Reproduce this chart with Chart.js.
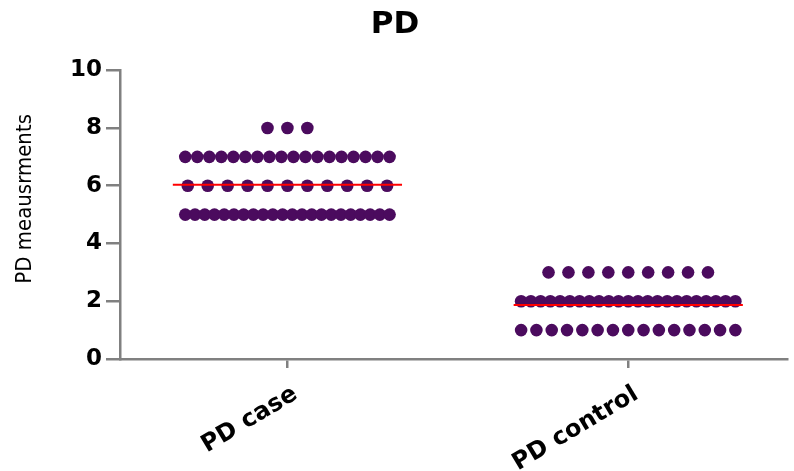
<!DOCTYPE html>
<html>
<head>
<meta charset="utf-8">
<script src="https://cdn.jsdelivr.net/npm/chart.js@4"></script>
<style>
  html, body { margin: 0; padding: 0; background: #fff; }
</style>
</head>
<body>
<canvas id="chart" width="794" height="471"></canvas>
<script>
// groups on the x axis
const groups = ["PD case", "PD control"];

const caseValues = [
  8, 8, 8,
  7, 7, 7, 7, 7, 7, 7, 7, 7, 7, 7, 7, 7, 7, 7, 7, 7, 7,
  6, 6, 6, 6, 6, 6, 6, 6, 6, 6, 6,
  5, 5, 5, 5, 5, 5, 5, 5, 5, 5, 5, 5, 5, 5, 5, 5, 5, 5, 5, 5, 5, 5
];
const controlValues = [
  3, 3, 3, 3, 3, 3, 3, 3, 3,
  2, 2, 2, 2, 2, 2, 2, 2, 2, 2, 2, 2, 2, 2, 2, 2, 2, 2, 2, 2, 2, 2, 2,
  1, 1, 1, 1, 1, 1, 1, 1, 1, 1, 1, 1, 1, 1, 1
];

const yTicks = [0, 2, 4, 6, 8, 10];

const PX_PER_UNIT = 342;   // x scale pixels per group step
const DOT_STEP = 20;       // px between spread dots
const ROW_MAX = [205, 215];// widest a row may get, px
const MEAN_HALF = 115;     // half length of mean line, px

// spread dots sharing a value sideways, like a scatter dot plot
function spread(values, groupIdx) {
  const rows = {};
  values.forEach(v => { (rows[v] = rows[v] || []).push(v); });
  const pts = [];
  Object.keys(rows).forEach(k => {
    const n = rows[k].length;
    const step = n > 1 ? Math.min(DOT_STEP, ROW_MAX[groupIdx] / (n - 1)) : 0;
    rows[k].forEach((v, i) => {
      const off = (i - (n - 1) / 2) * step / PX_PER_UNIT;
      pts.push({ x: groupIdx + 1 + off, y: v });
    });
  });
  return pts;
}

function meanLine(values, groupIdx) {
  const m = values.reduce((a, b) => a + b, 0) / values.length;
  const h = MEAN_HALF / PX_PER_UNIT;
  return [{ x: groupIdx + 1 - h, y: m }, { x: groupIdx + 1 + h, y: m }];
}

const dotColor = "#4b0b5e";
const axisColor = "#808080";
const sans = "'DejaVu Sans', Arial, sans-serif";

new Chart(document.getElementById("chart").getContext("2d"), {
  type: "scatter",
  data: {
    datasets: [
      { data: meanLine(caseValues, 0), showLine: true, borderColor: "#ff0000", borderWidth: 2, pointRadius: 0, order: 0 },
      { data: meanLine(controlValues, 1), showLine: true, borderColor: "#ff0000", borderWidth: 2, pointRadius: 0, order: 0 },
      { data: spread(caseValues, 0), backgroundColor: dotColor, borderColor: dotColor, pointRadius: 6.3, borderWidth: 0, order: 1 },
      { data: spread(controlValues, 1), backgroundColor: dotColor, borderColor: dotColor, pointRadius: 6.3, borderWidth: 0, order: 1 }
    ]
  },
  options: {
    responsive: false,
    animation: false,
    layout: { padding: { left: 0, right: 4, top: 0, bottom: 0 } },
    plugins: {
      legend: { display: false },
      tooltip: { enabled: false },
      title: {
        display: true,
        text: "PD",
        color: "#000",
        font: { family: sans, weight: "bold", size: 31 },
        padding: { top: 6, bottom: 27 }
      }
    },
    scales: {
      x: {
        type: "linear",
        min: 1 - 168 / PX_PER_UNIT,
        max: 2 + 160 / PX_PER_UNIT,
        afterBuildTicks: s => { s.ticks = groups.map((g, i) => ({ value: i + 1 })); },
        afterFit: s => { s.height = 112; },
        ticks: {
          callback: v => groups[v - 1],
          color: "#000",
          font: { family: sans, weight: "bold", size: 24 },
          maxRotation: 31,
          minRotation: 31,
          padding: 12,
          labelOffset: 8
        },
        grid: { drawOnChartArea: false, color: axisColor, lineWidth: 2.5, tickLength: 9 },
        border: { color: axisColor, width: 2.5 }
      },
      y: {
        min: 0,
        max: 10,
        afterBuildTicks: s => { s.ticks = yTicks.map(v => ({ value: v })); },
        afterFit: s => { s.width = 120; },
        ticks: { color: "#000", font: { family: sans, weight: "bold", size: 23 }, padding: 4 },
        grid: { drawOnChartArea: false, color: axisColor, lineWidth: 2.5, tickLength: 14 },
        border: { color: axisColor, width: 2.5 },
        title: {
          display: true,
          text: "     PD meausrments",
          color: "#000",
          font: { family: "'DejaVu Sans Condensed', 'Liberation Sans Narrow', sans-serif", size: 22 },
          padding: { top: 12, bottom: 0 }
        }
      }
    }
  }
});
</script>
</body>
</html>
